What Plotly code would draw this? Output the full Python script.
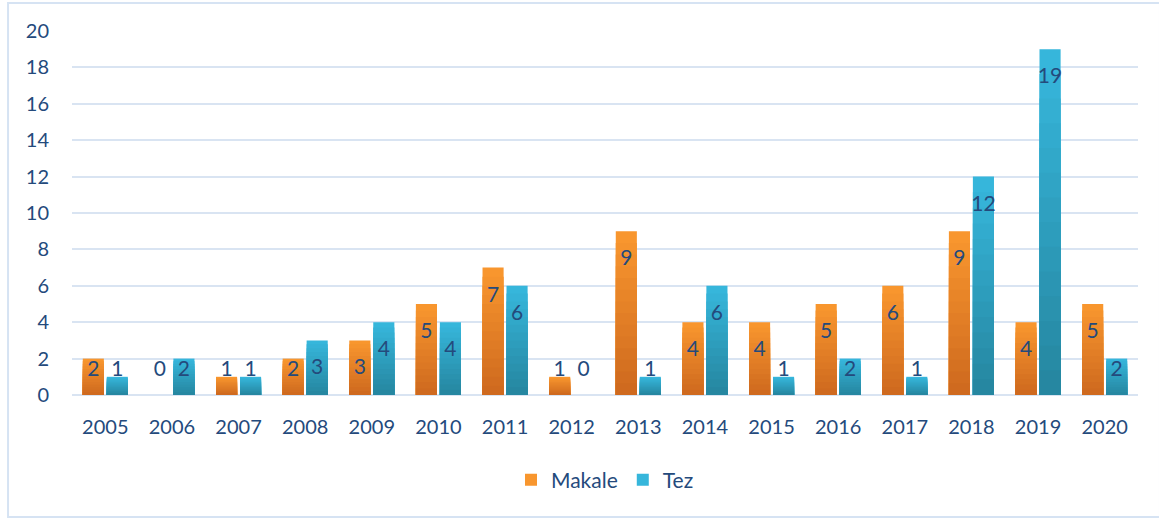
import plotly.graph_objects as go

years = ["2005", "2006", "2007", "2008", "2009", "2010", "2011", "2012",
         "2013", "2014", "2015", "2016", "2017", "2018", "2019", "2020"]
makale = [2, 0, 1, 2, 3, 5, 7, 1, 9, 4, 4, 5, 6, 9, 4, 5]
tez = [1, 2, 1, 3, 4, 4, 6, 0, 1, 6, 1, 2, 1, 12, 19, 2]

TEXT = "#244A7C"
GRID = "#D9E4F2"
FONT = "Lato"

xpos = list(range(len(years)))
BARGAP = 0.28
half_slot = (1 - BARGAP) / 4

def blend(c1, c2, t):
    a = [int(c1[i:i + 2], 16) for i in (1, 3, 5)]
    b = [int(c2[i:i + 2], 16) for i in (1, 3, 5)]
    return "#" + "".join(f"{round(a[k] + (b[k] - a[k]) * t):02x}" for k in range(3))

series = [
    ("Makale", makale, "#F8962E", "#CF6A1F", "m", -half_slot),
    ("Tez", tez, "#36B6DB", "#2687A1", "t", half_slot),
]

fig = go.Figure()
N = 14
for name, vals, top, bot, grp, off in series:
    for k in range(N):
        frac = 1 - k / N
        col = blend(top, bot, k / (N - 1))
        fig.add_trace(go.Bar(
            x=xpos, y=[v * frac for v in vals], name=name,
            offsetgroup=grp, marker=dict(color=col, line=dict(width=0)),
            showlegend=(k == 0), legendgroup=grp, hoverinfo="skip" if k else "x+y",
        ))

# data labels (inside-end style, clamped near the baseline like Excel)
for name, vals, top, bot, grp, off in series:
    fig.add_trace(go.Scatter(
        x=[i + off for i in xpos],
        y=[max(v - 1.58, 1.35) for v in vals],
        text=[str(v) for v in vals], mode="text",
        textposition="middle center",
        textfont=dict(family=FONT, size=21, color=TEXT),
        showlegend=False, hoverinfo="skip",
    ))

fig.update_layout(
    width=1159, height=520,
    margin=dict(l=72, r=21, t=31, b=125),
    paper_bgcolor="white", plot_bgcolor="white",
    barmode="group", bargap=BARGAP, bargroupgap=0.12,
    font=dict(family=FONT, size=20, color=TEXT),
    legend=dict(orientation="h", x=0.5, xanchor="center", y=-0.234, yanchor="middle",
                font=dict(family=FONT, size=21, color=TEXT), traceorder="normal",
                itemwidth=30),
    xaxis=dict(range=[-0.5, len(years) - 0.5], tickmode="array", tickvals=xpos,
               ticktext=years, showgrid=False, zeroline=False, showline=False,
               ticks="", ticklabelstandoff=18,
               tickfont=dict(family=FONT, size=20, color=TEXT)),
    yaxis=dict(range=[0, 20], dtick=2, showgrid=True, gridcolor=GRID, gridwidth=2,
               zeroline=True, zerolinecolor=GRID, zerolinewidth=2, showline=False,
               ticks="", ticklabelstandoff=22,
               tickfont=dict(family=FONT, size=20, color=TEXT)),
    shapes=[dict(type="rect", xref="paper", yref="paper",
                 x0=-0.060, x1=1.0206, y0=-0.335, y1=1.0769,
                 line=dict(color="#D6E3F3", width=2), layer="below")],
)

fig.write_html("out.html", config={"displayModeBar": False},
               post_script="document.body.style.margin='0';document.body.style.overflow='hidden';")
